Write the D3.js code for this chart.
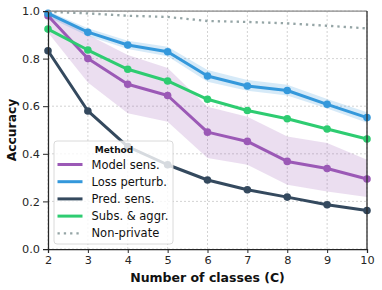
<!DOCTYPE html>
<html>
<head>
<meta charset="utf-8">
<script src="https://cdn.jsdelivr.net/npm/d3@7"></script>
<style>
  body { margin: 0; background: #fff; }
  text { font-family: "DejaVu Sans", sans-serif; }
</style>
</head>
<body>
<svg id="chart" width="382" height="290"></svg>
<script>
// number of classes on the x axis
const classes = [2, 3, 4, 5, 6, 7, 8, 9, 10];

// mean accuracy per method
const modelSens = [0.98, 0.80, 0.692, 0.645, 0.491, 0.452, 0.368, 0.338, 0.294];
const modelSensLo = [0.91, 0.70, 0.57, 0.535, 0.382, 0.354, 0.27, 0.242, 0.218];
const modelSensHi = [1.0, 0.90, 0.815, 0.76, 0.598, 0.556, 0.473, 0.445, 0.375];
const lossPerturb = [0.99, 0.911, 0.857, 0.829, 0.727, 0.685, 0.666, 0.608, 0.552];
const lossPerturbLo = [0.975, 0.895, 0.84, 0.81, 0.703, 0.665, 0.645, 0.59, 0.53];
const lossPerturbHi = [1.0, 0.927, 0.875, 0.85, 0.752, 0.71, 0.69, 0.63, 0.575];
const predSens = [0.833, 0.58, 0.43, 0.354, 0.29, 0.249, 0.218, 0.186, 0.162];
const subsAggr = [0.924, 0.836, 0.755, 0.706, 0.629, 0.582, 0.547, 0.504, 0.462];
const nonPrivate = [0.997, 0.99, 0.98, 0.975, 0.958, 0.954, 0.948, 0.938, 0.927];

const yTicks = [0.0, 0.2, 0.4, 0.6, 0.8, 1.0];

const series = [
  { name: "Model sens.", values: modelSens, lo: modelSensLo, hi: modelSensHi, color: "#9b59b6" },
  { name: "Loss perturb.", values: lossPerturb, lo: lossPerturbLo, hi: lossPerturbHi, color: "#3498db" },
  { name: "Pred. sens.", values: predSens, color: "#34495e" },
  { name: "Subs. & aggr.", values: subsAggr, color: "#2ecc71" },
  { name: "Non-private", values: nonPrivate, color: "#95a5a6", dotted: true }
];

const svg = d3.select("#chart");
const margin = { left: 48, right: 15, top: 11, bottom: 41 };
const width = 382 - margin.left - margin.right,
  height = 290 - margin.top - margin.bottom;

const x = d3.scaleLinear().domain([2, 10]).range([0, width]);
const y = d3.scaleLinear().domain([0, 1]).range([height, 0]);

const g = svg.append("g").attr("transform", `translate(${margin.left},${margin.top})`);

// grid
g.append("g").selectAll("line").data(classes).join("line")
  .attr("x1", d => x(d)).attr("x2", d => x(d)).attr("y1", 0).attr("y2", height)
  .attr("stroke", "#c8c8c8").attr("stroke-width", 0.8).attr("stroke-dasharray", "2,2");
g.append("g").selectAll("line").data(yTicks).join("line")
  .attr("x1", 0).attr("x2", width).attr("y1", d => y(d)).attr("y2", d => y(d))
  .attr("stroke", "#c8c8c8").attr("stroke-width", 0.8).attr("stroke-dasharray", "2,2");

// bands
const area = d3.area().x((d, i) => x(classes[i])).y0(d => y(d[0])).y1(d => y(d[1]));
series.filter(s => s.lo).forEach(s => {
  g.append("path")
    .datum(s.lo.map((v, i) => [v, s.hi[i]]))
    .attr("d", area)
    .attr("fill", s.color).attr("fill-opacity", 0.2);
});

// lines
const line = d3.line().x((d, i) => x(classes[i])).y(d => y(d));
series.forEach(s => {
  g.append("path").datum(s.values).attr("d", line)
    .attr("fill", "none").attr("stroke", s.color)
    .attr("stroke-width", s.dotted ? 2.3 : 3)
    .attr("stroke-dasharray", s.dotted ? "2.3,4" : null)
    .attr("stroke-linejoin", "round");
  if (!s.dotted) {
    g.append("g").selectAll("circle").data(s.values).join("circle")
      .attr("cx", (d, i) => x(classes[i])).attr("cy", d => y(d))
      .attr("r", 3.8).attr("fill", s.color);
  }
});

// axes
const xAxis = g.append("g").attr("transform", `translate(0,${height})`)
  .call(d3.axisBottom(x).tickValues(classes).tickFormat(d3.format("d")).tickSizeOuter(0).tickSize(4));
const yAxis = g.append("g")
  .call(d3.axisLeft(y).tickValues(yTicks).tickFormat(d3.format(".1f")).tickSizeOuter(0).tickSize(5));
[xAxis, yAxis].forEach(a => {
  a.select(".domain").attr("stroke", "#262626").attr("stroke-width", 1.25);
  a.selectAll(".tick line").attr("stroke", "#262626").attr("stroke-width", 1);
  a.selectAll(".tick text").attr("font-size", 11.3).attr("fill", "#262626")
    .attr("font-family", "DejaVu Sans");
});
yAxis.selectAll(".tick text").attr("x", -8);
xAxis.selectAll(".tick text").attr("y", 7);

// top and right spines
g.append("line").attr("x1", 0).attr("x2", width).attr("y1", 0).attr("y2", 0)
  .attr("stroke", "#888").attr("stroke-width", 1.25);
g.append("line").attr("x1", width).attr("x2", width).attr("y1", 0).attr("y2", height)
  .attr("stroke", "#262626").attr("stroke-width", 1.25);

// axis titles
svg.append("text").attr("x", margin.left + width / 2).attr("y", 281.5)
  .attr("text-anchor", "middle").attr("font-weight", "bold").attr("font-size", 12.5)
  .attr("fill", "#111").text("Number of classes (C)");
svg.append("text").attr("transform", `translate(16.3,${margin.top + height / 2}) rotate(-90)`)
  .attr("text-anchor", "middle").attr("font-weight", "bold").attr("font-size", 12.3)
  .attr("fill", "#111").text("Accuracy");

// legend
const lg = svg.append("g").attr("transform", "translate(54,141)");
lg.append("rect").attr("width", 119).attr("height", 103).attr("rx", 3)
  .attr("fill", "#fff").attr("fill-opacity", 0.8).attr("stroke", "#d0d0d0").attr("stroke-width", 0.8);
lg.append("text").attr("x", 60).attr("y", 11.5).attr("text-anchor", "middle")
  .attr("font-size", 9).attr("font-weight", "bold").attr("fill", "#111").text("Method");
series.forEach((s, i) => {
  const yy = 23.5 + i * 17.2;
  lg.append("line").attr("x1", 3.5).attr("x2", 28.5).attr("y1", yy).attr("y2", yy)
    .attr("stroke", s.color).attr("stroke-width", s.dotted ? 2.3 : 3)
    .attr("stroke-dasharray", s.dotted ? "2.3,4" : null);
  lg.append("text").attr("x", 37.5).attr("y", yy + 4).attr("font-size", 11.5)
    .attr("fill", "#111").text(s.name);
});
</script>
</body>
</html>
